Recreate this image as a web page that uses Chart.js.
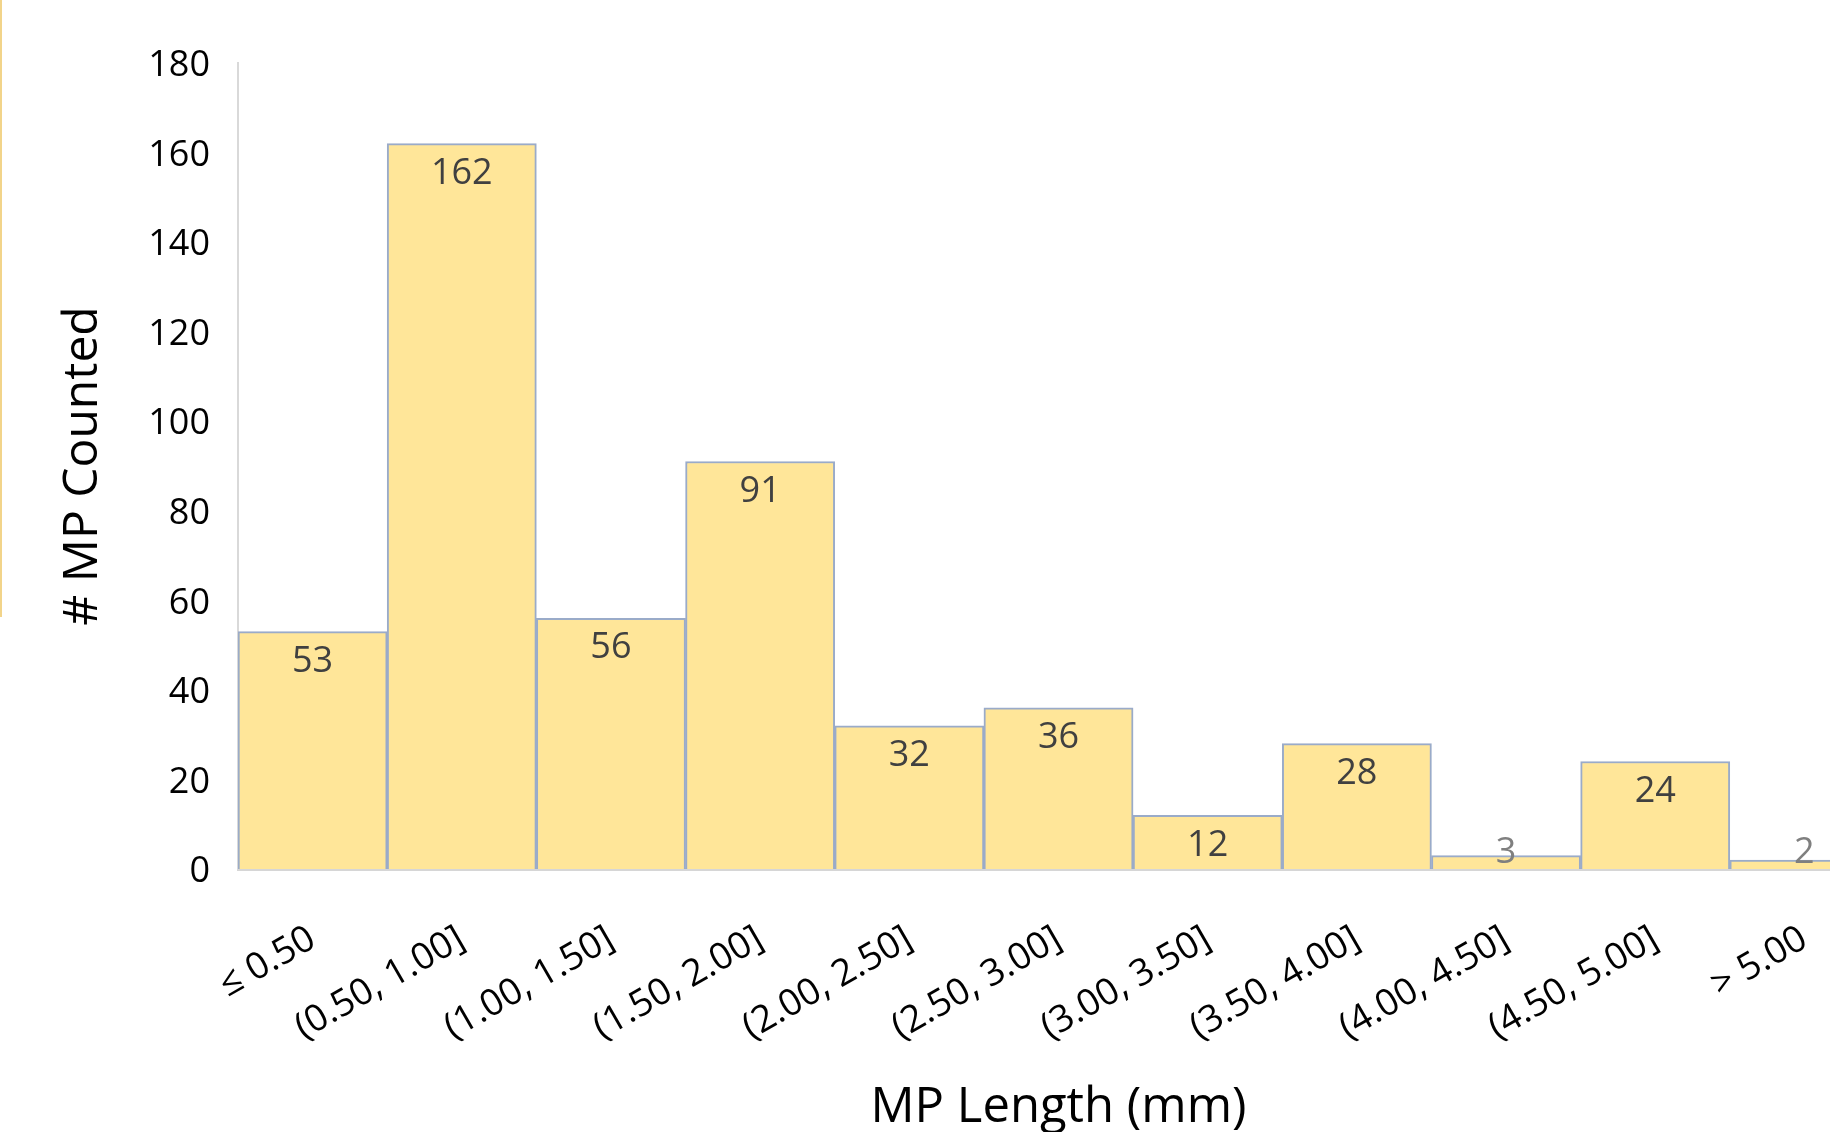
<!DOCTYPE html>
<html lang="en">

<head>
    <meta charset="UTF-8">
    <title>MP Length Histogram</title>
    <script src="https://cdn.jsdelivr.net/npm/chart.js"></script>
    <style>
        html, body { margin: 0; padding: 0; background: #fff; overflow: hidden; width: 1830px; height: 1132px; }
        .edge { position: absolute; left: 0; top: 0; width: 2px; height: 617px; background: #f2d48a; }
        #histChart { position: absolute; left: 0; top: 0; }
    </style>
</head>

<body>
    <div class="edge"></div>
    <canvas id="histChart" width="1890" height="1160"></canvas>

    <script>
        // bins and counts
        const binLabels = ["\u2264 0.50", "(0.50, 1.00]", "(1.00, 1.50]", "(1.50, 2.00]", "(2.00, 2.50]",
            "(2.50, 3.00]", "(3.00, 3.50]", "(3.50, 4.00]", "(4.00, 4.50]", "(4.50, 5.00]", "> 5.00"];
        const counts = [53, 162, 56, 91, 32, 36, 12, 28, 3, 24, 2];
        const yTicks = [0, 20, 40, 60, 80, 100, 120, 140, 160, 180];

        const font = "'Open Sans', 'DejaVu Sans', sans-serif";

        // value labels just inside the top of each bar
        const valueLabels = {
            id: "valueLabels",
            afterDatasetsDraw(chart) {
                const ctx = chart.ctx;
                const meta = chart.getDatasetMeta(0);
                const zeroY = chart.scales.y.getPixelForValue(0);
                ctx.save();
                ctx.font = "36px " + font;
                ctx.textAlign = "center";
                ctx.textBaseline = "middle";
                meta.data.forEach((bar, i) => {
                    const small = counts[i] < 5;
                    const y = Math.min(bar.y + 30, zeroY - 16);
                    ctx.fillStyle = small ? "#7f7f7f" : "#404040";
                    ctx.fillText(String(counts[i]), bar.x, y);
                });
                ctx.restore();
            }
        };

        new Chart(document.getElementById("histChart").getContext("2d"), {
            type: "bar",
            data: {
                labels: binLabels,
                datasets: [{
                    data: counts,
                    backgroundColor: "#ffe699",
                    borderColor: "#9aabc9",
                    borderWidth: 2,
                    barPercentage: 1.0,
                    categoryPercentage: 1.0
                }]
            },
            options: {
                responsive: false,
                animation: false,
                layout: { padding: { top: 63, left: 0, right: 11, bottom: 0 } },
                plugins: {
                    legend: { display: false },
                    tooltip: { enabled: false }
                },
                scales: {
                    x: {
                        grid: { display: false },
                        border: { display: true, color: "#d6d6d6", width: 3 },
                        ticks: {
                            color: "#000",
                            font: { family: font, size: 37 },
                            minRotation: 30,
                            maxRotation: 30,
                            autoSkip: false,
                            padding: 40
                        },
                        title: {
                            display: true,
                            text: "MP Length (mm)",
                            color: "#000",
                            font: { family: font, size: 49 },
                            padding: { top: 23, bottom: 23 }
                        },
                        afterFit(scale) { scale.height = 291; }
                    },
                    y: {
                        min: 0,
                        max: 180,
                        grid: { display: false },
                        border: { display: true, color: "#d9d9d9", width: 2 },
                        afterBuildTicks(scale) { scale.ticks = yTicks.map(v => ({ value: v })); },
                        ticks: {
                            color: "#000",
                            font: { family: font, size: 36 },
                            padding: 20,
                            labelOffset: 3
                        },
                        title: {
                            display: true,
                            text: "# MP Counted",
                            color: "#000",
                            font: { family: font, size: 48 },
                            padding: { top: 55, bottom: 55 }
                        },
                        afterFit(scale) { scale.width = 238; }
                    }
                }
            },
            plugins: [valueLabels]
        });
    </script>
</body>

</html>
